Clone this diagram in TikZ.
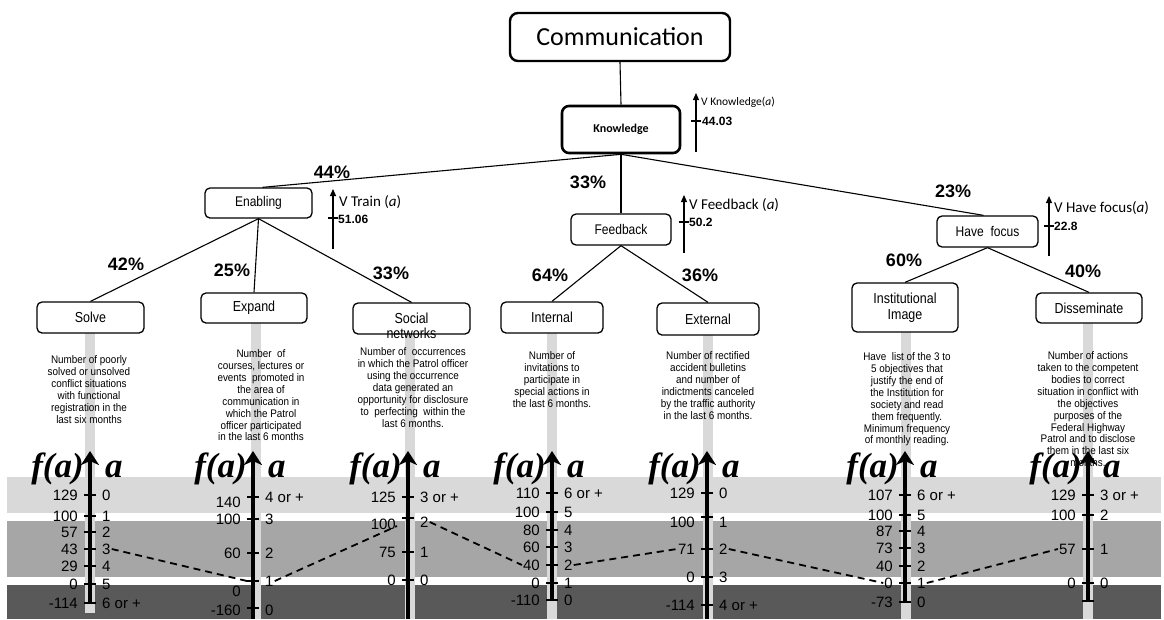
\documentclass[tikz,border=0pt]{standalone}
\usepackage{fontspec}
\setmainfont{Liberation Sans}
\newfontfamily\narrowsans[FakeStretch=0.86]{Liberation Sans}
\newfontfamily\descsans[FakeStretch=0.9]{Liberation Sans}
\newfontfamily\calibri{Carlito}
\newfontfamily\serifbi{Liberation Serif}
\usetikzlibrary{arrows.meta,calc}

\definecolor{bandlight}{HTML}{D9D9D9}
\definecolor{bandmid}{HTML}{A6A6A6}
\definecolor{banddark}{HTML}{595959}

\tikzset{
  treebox/.style={draw, line width=1.3pt, rounded corners=5pt, fill=white, inner sep=0pt,
    font=\narrowsans\fontsize{14.5}{16}\selectfont, align=center},
  edge/.style={line width=1.1pt},
  pct/.style={font=\bfseries\fontsize{18}{20}\selectfont, inner sep=0pt},
  desc/.style={font=\descsans\fontsize{11}{11.9}\selectfont, align=center, inner sep=0pt, anchor=north},
  stem/.style={draw=bandlight, line width=10pt},
  axisline/.style={line width=4.5pt, -{Stealth[length=14pt,width=18pt,inset=4pt]}},
  tickline/.style={line width=1.3pt},
  ticklab/.style={font=\fontsize{15}{17}\selectfont, inner sep=1pt},
  flab/.style={font=\serifbi\bfseries\itshape\fontsize{35}{37}\selectfont, inner sep=0pt},
  varrow/.style={line width=1.2pt, -{Triangle[length=7pt,width=6pt]}},
  vlab/.style={font=\calibri\fontsize{15}{17}\selectfont, inner sep=0pt, anchor=west},
  vval/.style={font=\bfseries\fontsize{12}{14}\selectfont, inner sep=0pt, anchor=west},
  link/.style={line width=1.8pt, dash pattern=on 7pt off 5pt},
}

% one vertical value scale: #1 name, #2 x, #3 lower end of the shaft,
% #4 list of tick y / left label y / left label / right label y / right label
\newcommand\scaleaxis[4]{%
  \draw[axisline] (#2,#3) -- (#2,451);
  \foreach \yy/\ly/\lt/\ry/\rt [count=\i] in {#4} {%
    \draw[tickline] (#2-6,\yy) -- (#2+6,\yy);
    \coordinate (#1-t\i) at (#2,\yy);
    \node[ticklab,anchor=east] (#1-l\i) at (#2-11,\ly) {\lt};
    \node[ticklab,anchor=west] (#1-r\i) at (#2+11,\ry) {\rt};
  }
  \node[flab,anchor=base east] (#1-f) at (#2-6,477) {f(a)};
  \node[flab,anchor=base west] (#1-a) at (#2+15,477) {a};
}

\begin{document}
\begin{tikzpicture}[x=1pt,y=-1pt]
\useasboundingbox (0,0) rectangle (1164,619);

% background bands of the value scales
\fill[bandlight] (7,477) rectangle (1161,513);
\fill[bandmid]   (7,521) rectangle (1161,577);
\fill[banddark]  (7,585) rectangle (1161,619);

% tree boxes
\node[treebox, line width=2.4pt, rounded corners=8pt, minimum width=220pt, minimum height=48pt,
  font=\calibri\fontsize{26}{28}\selectfont] (comm) at (620,37) {Communication};
\node[treebox, line width=2.6pt, rounded corners=7pt, minimum width=118pt, minimum height=47pt,
  font=\calibri\bfseries\fontsize{12}{14}\selectfont] (know) at (621,129.5) {Knowledge};
\node[treebox, minimum width=107pt, minimum height=30pt, font=\narrowsans\fontsize{14}{16}\selectfont] (enab) at (258.5,203) {Enabling};
\node[treebox, minimum width=100pt, minimum height=31pt, font=\narrowsans\fontsize{14}{16}\selectfont] (feed) at (621,229.5) {Feedback};
\node[treebox, minimum width=101pt, minimum height=31pt, font=\narrowsans\fontsize{14}{16}\selectfont] (have) at (987.5,231.5) {Have\ \ focus};

% grey stems below the leaf boxes
\coordinate (solvepos) at (90.5,317.5);
\coordinate (expandpos) at (254,308);
\coordinate (socialpos) at (411.5,318.5);
\coordinate (internalpos) at (552,317.5);
\coordinate (externalpos) at (708,319);
\coordinate (instpos) at (905,307.5);
\coordinate (disspos) at (1089,308);
\draw[stem] (90,333) -- (90,613);
\draw[stem] (256,323) -- (256,619);
\draw[stem] (410,334) -- (410,619);
\draw[stem] (552,333) -- (552,619);
\draw[stem] (708,335) -- (708,619);
\draw[stem] (906,332) -- (906,619);
\draw[stem] (1088,323) -- (1088,619);

\node[treebox, minimum width=107pt, minimum height=31pt] (solve) at (solvepos) {Solve};
\node[treebox, minimum width=106pt, minimum height=30pt] (expand) at (expandpos) {Expand};
\node[treebox, minimum width=117pt, minimum height=31pt] (social) at (socialpos) {};
\node[font=\narrowsans\fontsize{14.5}{16}\selectfont, align=center, inner sep=0pt] (socialtext) at (411.5,326) {Social\\[-1pt]networks};
\node[treebox, minimum width=102pt, minimum height=31pt] (internal) at (internalpos) {Internal};
\node[treebox, minimum width=102pt, minimum height=32pt] (external) at (externalpos) {External};
\node[treebox, minimum width=106pt, minimum height=49pt] (inst) at (instpos) {Institutional\\Image};
\node[treebox, minimum width=106pt, minimum height=30pt] (diss) at (disspos) {Disseminate};

% tree edges
\draw[edge] (comm.south) -- (know.north);
\draw[edge] (know.south) -- ([xshift=4pt]enab.north);
\draw[edge] (know.south) -- (feed.north);
\draw[edge] (know.south) -- ([xshift=-4pt]have.north);
\draw[edge] (enab.south) -- (solve.north);
\draw[edge] (enab.south) -- (expand.north);
\draw[edge] (enab.south) -- (social.north);
\draw[edge] (feed.south) -- (internal.north);
\draw[edge] (feed.south) -- (external.north);
\draw[edge] (have.south) -- (inst.north);
\draw[edge] (have.south) -- (diss.north);

% weights
\node[pct] (p44) at (332,172) {44\%};
\node[pct] (p33a) at (588,182) {33\%};
\node[pct] (p23) at (953,191) {23\%};
\node[pct] (p42) at (126,264) {42\%};
\node[pct] (p25) at (232,270) {25\%};
\node[pct] (p33b) at (391,273) {33\%};
\node[pct] (p64) at (550,275) {64\%};
\node[pct] (p36) at (700,275) {36\%};
\node[pct] (p60) at (904,260) {60\%};
\node[pct] (p40) at (1083,271) {40\%};

% value arrows beside the inner boxes
\draw[varrow] (696,152) -- (696,93);
\draw[line width=1.1pt] (691,121) -- (701,121);
\node[vlab, font=\calibri\fontsize{11.5}{13}\selectfont] (vknow) at (701,102) {V Knowledge(\textit{a})};
\node[vval] (vknowv) at (702,121) {44.03};

\draw[varrow] (333,249) -- (333,189);
\draw[line width=1.1pt] (328,218) -- (338,218);
\node[vlab] (vtrain) at (339,202) {V Train (\textit{a})};
\node[vval] (vtrainv) at (338,219) {51.06};

\draw[varrow] (684,253) -- (684,195);
\draw[line width=1.1pt] (679,222) -- (689,222);
\node[vlab] (vfeed) at (689,205) {V Feedback (\textit{a})};
\node[vval] (vfeedv) at (689,222) {50.2};

\draw[varrow] (1049,256) -- (1049,196);
\draw[line width=1.1pt] (1044,226) -- (1054,226);
\node[vlab] (vhave) at (1054,208) {V Have focus(\textit{a})};
\node[vval] (vhavev) at (1054,226) {22.8};

% indicator descriptions
\node[desc] (dsolve) at (89,355.5) {Number of poorly\\solved or unsolved\\conflict situations\\with functional\\registration in the\\last six months};
\node[desc] (dexpand) at (261,349.5) {Number\ \ of\\courses, lectures or\\events\ \ promoted in\\the area of\\communication in\\which the Patrol\\officer participated\\in the last 6 months};
\node[desc] (dsocial) at (413,347.5) {Number of\ \ occurrences\\in which the Patrol officer\\using the occurrence\\data generated an\\opportunity for disclosure\\to\ \ perfecting\ \ within the\\last 6 months.};
\node[desc] (dinternal) at (552,351.5) {Number of\\invitations to\\participate in\\special actions in\\the last 6 months.};
\node[desc] (dexternal) at (708,351.5) {Number of rectified\\accident bulletins\\and number of\\indictments canceled\\by the traffic authority\\in the last 6 months.};
\node[desc] (dinst) at (907,352.5) {Have\ \ list of the 3 to\\5 objectives that\\justify the end of\\the Institution for\\society and read\\them frequently.\\Minimum frequency\\of monthly reading.};
\node[desc] (ddiss) at (1088,351.5) {Number of actions\\taken to the competent\\bodies to correct\\situation in conflict with\\the objectives\\purposes of the\\Federal Highway\\Patrol and to disclose\\them in the last six\\months.};

% value scales
\scaleaxis{solve}{90}{603}{495/495/129/495/0, 516/516/100/516/1, 532/532/57/532/2, 549/549/43/549/3, 566/566/29/566/4, 584/584/0/584/5, 603/603/-114/603/6 or +}
\scaleaxis{expand}{253}{619}{497/502/140/497/4 or +, 519/519/100/519/3, 553/553/60/553/2, 581/591/0/581/1, 608/610/-160/610/0}
\scaleaxis{social}{408}{619}{497/497/125/497/3 or +, 518/524/100/522/2, 552/552/75/552/1, 580/580/0/580/0}
\scaleaxis{internal}{552}{600}{493/493/110/493/6 or +, 512/512/100/512/5, 530/530/80/530/4, 547/547/60/547/3, 565/565/40/565/2, 583/583/0/583/1, 600/600/-110/600/0}
\scaleaxis{external}{707}{619}{493/493/129/493/0, 517/522/100/522/1, 549/549/71/549/2, 577/577/0/577/3, 605/605/-114/605/4 or +}
\scaleaxis{inst}{905}{603}{495/495/107/495/6 or +, 515/515/100/515/5, 531/531/87/531/4, 548/548/73/548/3, 566/566/40/566/2, 583/583/0/583/1, 602/602/-73/602/0}
\scaleaxis{diss}{1088}{601}{495/495/129/495/3 or +, 515/515/100/515/2, 549/549/57/549/1, 583/583/0/583/0}
\draw[tickline] (1082,601) -- (1094,601);

% profile through the scales
\draw[link] (solve-r4.east) -- ($(expand-t4)+(-6,0)$);
\draw[link] (expand-r4.east) -- ($(social-t2)+(-11,8)$);
\draw[link] (social-r2.east) -- (internal-l5.west);
\draw[link] (internal-r5.east) -- (external-l3.west);
\draw[link] (external-r3.east) -- (inst-l6.west);
\draw[link] (inst-r6.east) -- (diss-l3.west);
\end{tikzpicture}
\end{document}
